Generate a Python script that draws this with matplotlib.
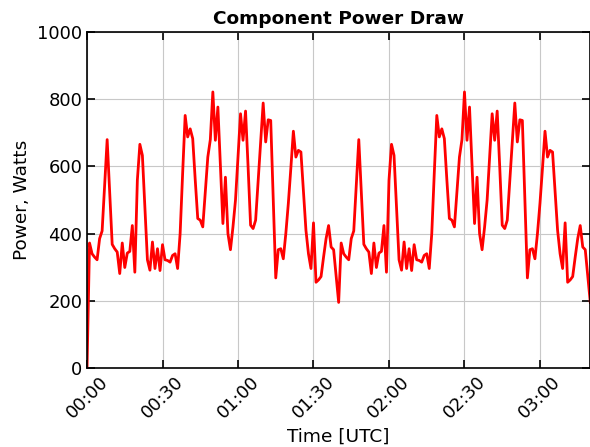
from matplotlib import pyplot as plt
import matplotlib.dates as mdates
import numpy as np

# one reading per minute, starting 00:00 UTC
start = np.datetime64('2024-01-01T00:00')
power = [
    0, 372, 340, 330, 322, 385, 408, 545, 680, 525,
    368, 355, 345, 281, 372, 299, 342, 347, 424, 285,
    559, 666, 633, 480, 322, 291, 375, 296, 355, 290,
    367, 322, 320, 315, 335, 340, 296, 400, 580, 752,
    688, 712, 683, 560, 445, 440, 420, 525, 628, 680,
    822, 678, 777, 600, 430, 568, 400, 352, 420, 500,
    630, 757, 678, 765, 600, 425, 415, 440, 555, 670,
    789, 673, 739, 737, 500, 268, 352, 355, 325, 400,
    490, 595, 705, 628, 648, 643, 525, 410, 340, 296,
    432, 255, 262, 272, 330, 385, 424, 360, 352, 275,
    195, 372, 340, 330, 322, 385, 408, 545, 680, 525,
    368, 355, 345, 281, 372, 299, 342, 347, 424, 285,
    559, 666, 633, 480, 322, 291, 375, 296, 355, 290,
    367, 322, 320, 315, 335, 340, 296, 400, 580, 752,
    688, 712, 683, 560, 445, 440, 420, 525, 628, 680,
    822, 678, 777, 600, 430, 568, 400, 352, 420, 500,
    630, 757, 678, 765, 600, 425, 415, 440, 555, 670,
    789, 673, 739, 737, 500, 268, 352, 355, 325, 400,
    490, 595, 705, 628, 648, 643, 525, 410, 340, 296,
    432, 255, 262, 272, 330, 385, 424, 360, 352, 275,
    195,
]
times = start + np.arange(len(power)) * np.timedelta64(1, 'm')

fig = plt.figure(figsize=(5.9, 4.47), dpi=100)
ax = fig.add_axes([0.1475, 0.177, 0.853, 0.751])

ax.plot(times, power, color='red', lw=2)

ax.set_xlim(times[0], times[-1])
ax.set_ylim(0, 1000)
ax.xaxis.set_major_locator(mdates.MinuteLocator(byminute=[0, 30]))
ax.xaxis.set_major_formatter(mdates.DateFormatter('%H:%M'))
ax.set_yticks([0, 200, 400, 600, 800, 1000])
ax.grid(True, color='#c8c8c8', lw=0.8)
ax.tick_params(direction='in', top=True, right=True, length=6, width=1.2, labelsize=13)
plt.setp(ax.get_xticklabels(), rotation=45)
for s in ax.spines.values():
    s.set_linewidth(1.2)

ax.set_title("Component Power Draw", fontsize=13.3, fontweight='bold', pad=6)
ax.set_xlabel("Time [UTC]", fontsize=13.3, labelpad=4)
ax.set_ylabel("Power, Watts", fontsize=13.3)

fig.savefig('out.png', dpi=100)
